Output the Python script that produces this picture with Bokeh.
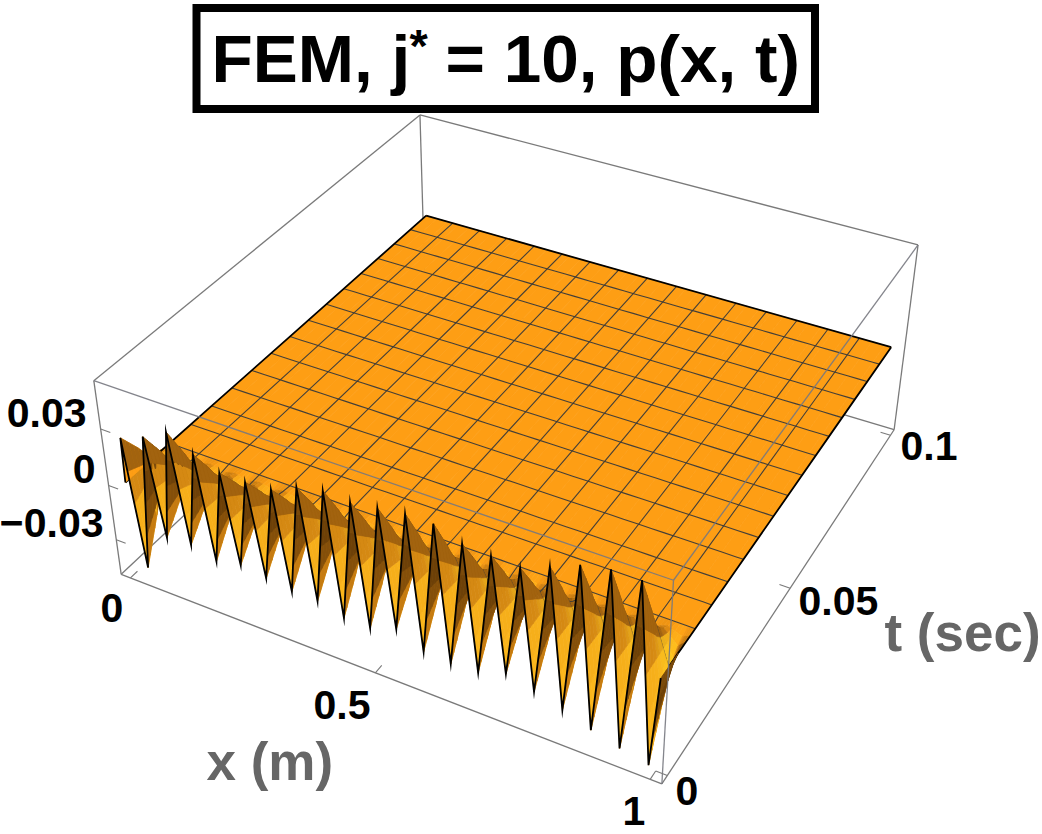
import numpy as np
from bokeh.plotting import figure
from bokeh.models import Range1d
from bokeh.core.properties import value
from bokeh.embed import file_html
from bokeh.resources import INLINE

# ---------- data ----------
peak_values = [.024,.029,.036,.029,.024,.024,.025,.031,.034,.033,.035,.037,.037,.032,.031,.030,.036,.042,.045,.045]
trough_values = [-.045,-.023,-.022,-.026,-.023,-.025,-.027,-.027,-.031,-.031,-.026,-.033,-.034,-.033,-.028,-.032,-.036,-.041,-.045,-.048]
time_rows = [0,.001,.002,.003,.004,.005,.00625,.0075,.009,.0105,.0125,.025,.05,.075,.1]
time_decay = [1,.875,.75,.625,.5,.36,.22,.14,.07,.03,0,0,0,0,0]
x_tick_values = [0,.5,1]
x_tick_labels = ["0","0.5","1"]
t_tick_values = [0,.05,.1]
t_tick_labels = ["0","0.05","0.1"]
z_tick_values = [.03,0,-.03]
z_tick_labels = ["0.03","0","\u22120.03"]
z_min, z_max = -.0497, .0548
pad = .02
T_MAX = .1

# ---------- camera calibrated on the box corners ----------
calib = [
 (-pad,-pad,z_min,122,575.5),(1+pad,-pad,z_min,661,785),(1+pad,1+pad,z_min,893,431),
 (-pad,-pad,z_max,92,382),(1+pad,-pad,z_max,673,580),(1+pad,1+pad,z_max,918,246),(-pad,1+pad,z_max,421,116),
 (0,1,0,424,213),(1,1,0,891,344),(-pad,-pad,0,108,484),(-pad,-pad,.03,100,427),(-pad,-pad,-.03,117,539),
 (1,0,0,660.5,675),(0,0,0,124,482)]
A=[];b=[]
for x,t,z,u,v in calib:
    Z=z/(z_max-z_min)
    A.append([x,t,Z,1,0,0,0,0,-u*x,-u*t,-u*Z]);b.append(u)
    A.append([0,0,0,0,x,t,Z,1,-v*x,-v*t,-v*Z]);b.append(v)
P=np.linalg.lstsq(np.array(A,float),np.array(b,float),rcond=None)[0]
def proj(x,t,z):
    x=np.asarray(x,float);t=np.asarray(t,float);Z=np.asarray(z,float)/(z_max-z_min)
    w=P[8]*x+P[9]*t+P[10]*Z+1
    return (P[0]*x+P[1]*t+P[2]*Z+P[3])/w,(P[4]*x+P[5]*t+P[6]*Z+P[7])/w,w

# ---------- surface ----------
prof=[]
for a,c in zip(peak_values,trough_values):
    prof+= [a,c]
prof.append(0.0)
prof=np.array(prof)
xk=np.arange(41)/39.5
xk[0]=.002
xk[40]=1.0
xn=np.concatenate([[0.0],xk])
front=np.concatenate([[0.0],prof])
tn=np.array(time_rows)/T_MAX
dec=np.array(time_decay)

# colours across one peak-to-peak period
ramp_ph=[0,.12,.25,.4,.5,.6,.75,.9,1]
ramp=np.array([[0x8a,0x55,0x10],[0xb8,0x70,0x0e],[0xf0,0xa0,0x18],[0xff,0xc4,0x1e],[0xf5,0xa0,0x15],
               [0xa8,0x65,0x0e],[0x6b,0x3f,0x08],[0x6f,0x42,0x08],[0x8a,0x55,0x10]],float)
BASE=np.array([0xfe,0x9e,0x14],float)
YEL=np.array([0xff,0xd4,0x22],float)
def colour(ph,d):
    c=np.array([np.interp(ph,ramp_ph,ramp[:,i]) for i in range(3)])
    if .15<ph<.5 and d<.6:
        c=c+(YEL-c)*(.6-d)/.6*.7
    s=min(d/.14,1)
    c=BASE+(c-BASE)*s
    return "#%02x%02x%02x"%tuple(int(round(v)) for v in c)

NSUB=4
quads={"back":[],"front":[]}
nseg=len(xn)-1
for j in range(len(tn)-1):
    dm=.5*(dec[j]+dec[j+1])
    for k in range(nseg):
        sub = NSUB if (k>0 and dm>0) else 1
        for s in range(sub):
            f0,f1=s/sub,(s+1)/sub
            xa=xn[k]+(xn[k+1]-xn[k])*f0; xb=xn[k]+(xn[k+1]-xn[k])*f1
            za=front[k]+(front[k+1]-front[k])*f0; zb=front[k]+(front[k+1]-front[k])*f1
            xc=[xa,xb,xb,xa]
            tc=[tn[j],tn[j],tn[j+1],tn[j+1]]
            zc=[za*dec[j],zb*dec[j],zb*dec[j+1],za*dec[j+1]]
            u,v,w=proj(xc,tc,zc)
            if k==0 or dm==0:
                col="#%02x%02x%02x"%tuple(int(c) for c in BASE)
            else:
                ph=(((k-1)+(f0+f1)/2)/2)%1.0
                col=colour(ph,dm)
            item=(float(w.mean()),list(u),list(v),col)
            quads["back" if tn[j]>=.0625-1e-9 else "front"].append(item)
quads["front"].sort(key=lambda q:-q[0])
quads["back"].sort(key=lambda q:-q[0])

# ---------- figure ----------
p=figure(width=1042,height=834,x_range=Range1d(0,1042),y_range=Range1d(834,0),
         output_backend="svg",toolbar_location=None,min_border=0,
         x_axis_location=None,y_axis_location=None)
p.outline_line_color=None
p.grid.visible=False
p.background_fill_color="white"
p.border_fill_color="white"

BOX="#7a7a7a"
def edge(a,c,color=BOX,width=1.3,alpha=1.0):
    u,v,_=proj([a[0],c[0]],[a[1],c[1]],[a[2],c[2]])
    p.line(list(u),list(v),line_color=color,line_width=width,line_alpha=alpha)
lo,hi=-pad,1+pad
# rear edges of the box
edge((lo,hi,z_max),(lo,hi,z_min))
edge((lo,hi,z_max),(hi,hi,z_max))
edge((lo,hi,z_max),(lo,lo,z_max))
edge((lo,lo,z_min),(lo,hi,z_min))
edge((lo,hi,z_min),(hi,hi,z_min))
edge((hi,hi,z_max),(hi,hi,z_min))
edge((lo,lo,z_max),(lo,lo,z_min))
edge((lo,lo,z_min),(hi,lo,z_min))
edge((hi,lo,z_min),(hi,hi,z_min))

def draw(items):
    p.patches([q[1] for q in items],[q[2] for q in items],fill_color=[q[3] for q in items],
              line_color=[q[3] for q in items],line_width=.7)
draw(quads["back"])

MESH="#3a3a3a"
mask=tn>=.0625-1e-9
for m in range(1,16):
    xm=m/16
    z=[np.interp(xm,xn,front)*d for d in dec[mask]]
    u,v,_=proj(np.full(mask.sum(),xm),tn[mask],z)
    p.line(list(u),list(v),line_color=MESH,line_width=1.1,line_alpha=.95)
for n in range(1,16):
    tm=n/16
    dm=np.interp(tm,tn,dec)
    u,v,_=proj(xn,np.full(len(xn),tm),front*dm)
    p.line(list(u),list(v),line_color=MESH,line_width=1.1,line_alpha=.95)

# outline behind the spikes
edge((0,1,0),(1,1,0),"#000000",1.8)
u,v,_=proj(np.zeros(len(tn)),tn,np.zeros(len(tn))); p.line(list(u),list(v),line_color="#000000",line_width=1.8)
u,v,_=proj(np.ones(len(tn)),tn,np.zeros(len(tn))); p.line(list(u),list(v),line_color="#000000",line_width=1.8)

draw(quads["front"])

# front outline
u,v,_=proj(xn,np.zeros(len(xn)),front); p.line(list(u),list(v),line_color="#000000",line_width=1.8,line_join="miter")

# front edges of the box, over the surface
edge((lo,lo,z_max),(hi,lo,z_max),"#77787f",1.3,.9)
edge((hi,lo,z_max),(hi,hi,z_max),"#77787f",1.3,.9)
edge((hi,lo,z_max),(hi,lo,z_min),"#77787f",1.3,.9)

# ticks
for xv in x_tick_values:
    edge((xv,lo,z_min),(xv,0,z_min),BOX,1.1)
for tv in t_tick_values:
    edge((hi,tv/T_MAX,z_min),(1,tv/T_MAX,z_min),BOX,1.1)
for zv in z_tick_values:
    edge((lo,lo,zv),(0,lo,zv),BOX,1.1)

FONT=value("Liberation Sans")
def txt(x,y,s,size,color="#000000",align="left"):
    p.text([x],[y-.36*size],text=[s],text_font=FONT,text_font_style="bold",text_font_size=value(f"{size}px"),
           text_color=color,text_align=align,text_baseline="alphabetic")

# tick labels
for s,(x,y) in zip(z_tick_labels,[(86,427),(95,483),(103,537)]):
    txt(x,y,s,41,align="right")
for s,(x,y) in zip(x_tick_labels,[(100,622),(313,719),(622,825)]):
    txt(x,y,s,41)
for s,(x,y) in zip(t_tick_labels,[(675,805),(798,615),(900,460)]):
    txt(x,y,s,41)
txt(206,780,"x (m)",53,"#666666")
txt(884,651,"t (sec)",53,"#666666")

# title
p.quad(left=[196],right=[814.5],top=[7.5],bottom=[108.5],fill_color="white",line_color="black",line_width=8,line_join="miter")
txt(211,82,"FEM, j",67.5)
txt(409,62,"*",47)
txt(445,82,"= 10, p(x, t)",67.5)

open("out.html","w").write(file_html(p,INLINE))
